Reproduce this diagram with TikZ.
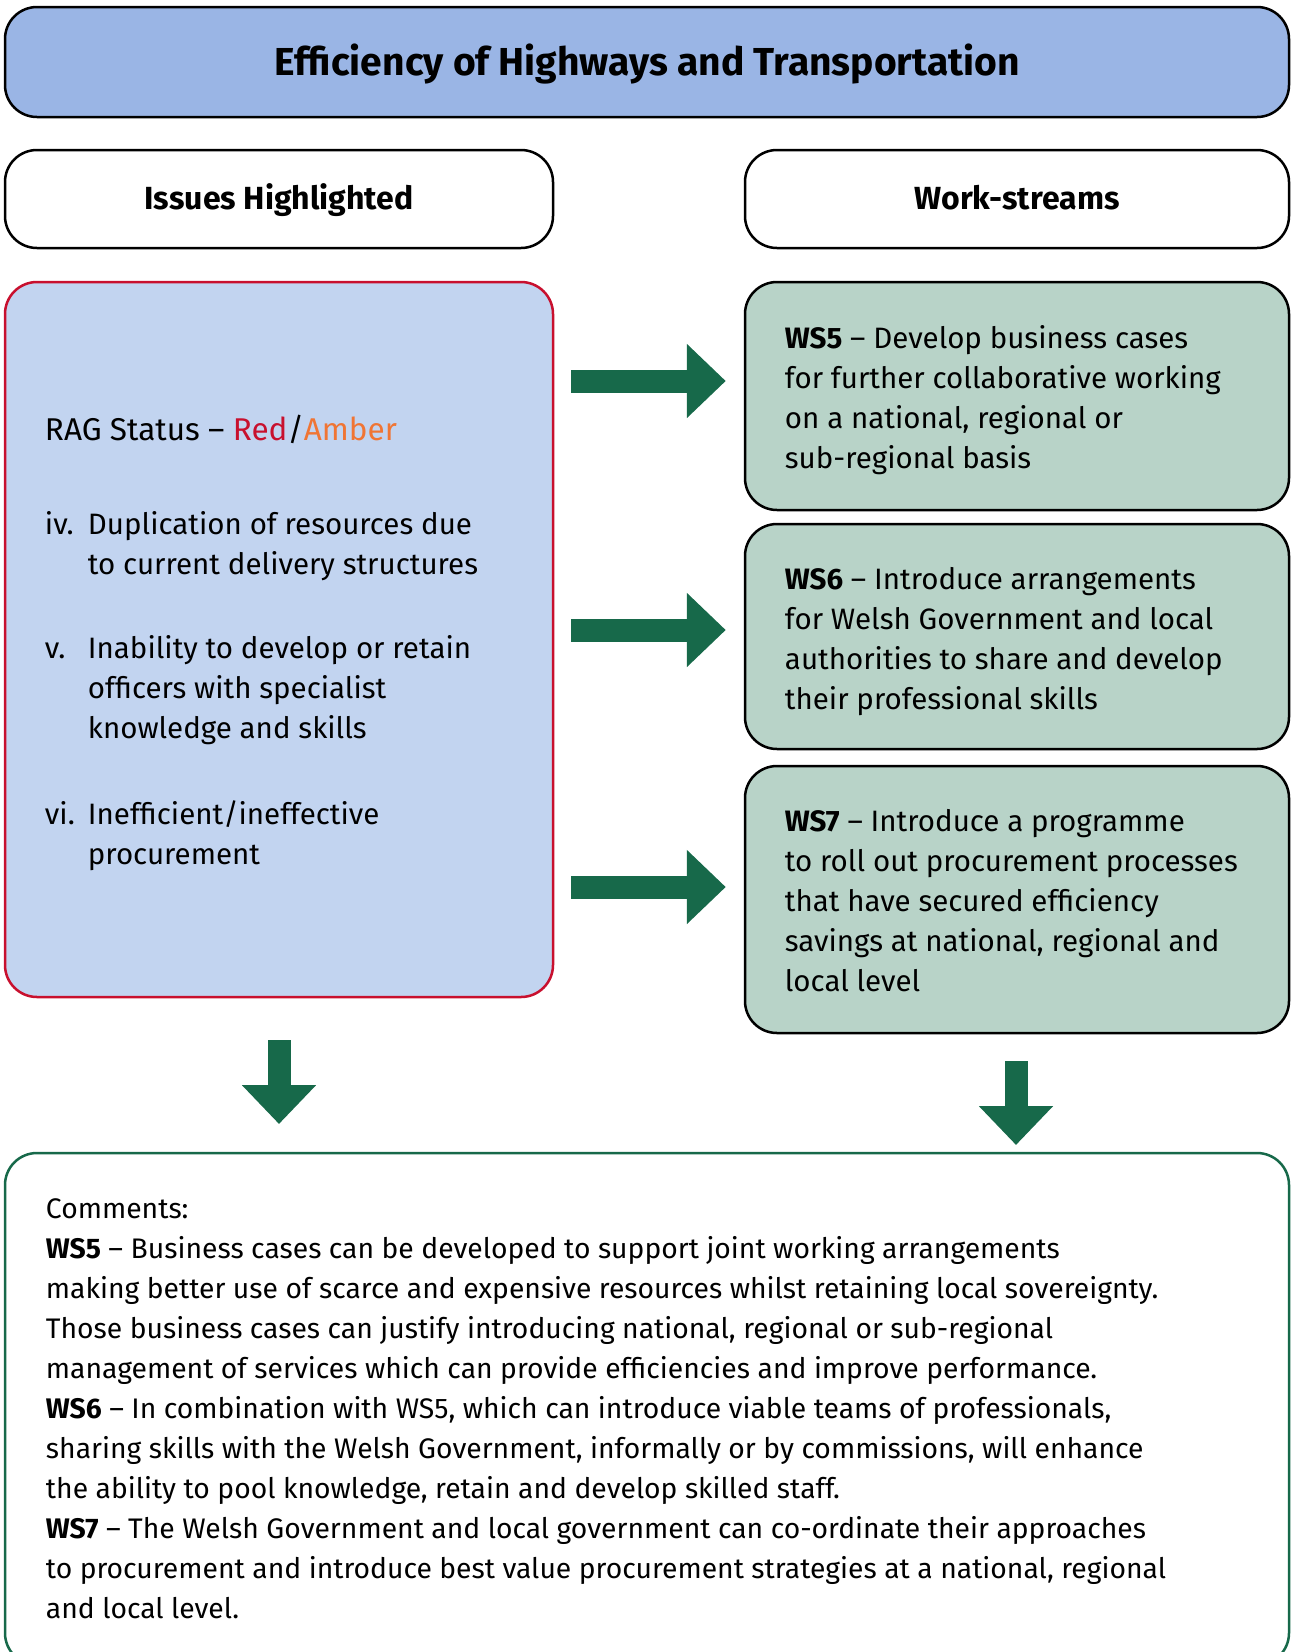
\documentclass[tikz,border=0pt]{standalone}
\usepackage{fontspec}
\setmainfont{Fira Sans}
\usepackage{tikz}
\usetikzlibrary{arrows.meta,positioning,calc}
\usepackage{xcolor}

\definecolor{titleblue}{HTML}{9AB5E5}
\definecolor{issueblue}{HTML}{C2D4F0}
\definecolor{wsgreen}{HTML}{B8D3C8}
\definecolor{arrowgreen}{HTML}{17694A}
\definecolor{ragred}{HTML}{C8102E}
\definecolor{ragamber}{HTML}{F07534}

\begin{document}
\begin{tikzpicture}[
  x=1pt, y=-1pt,
  panel/.style={rectangle, draw=black, line width=2.5pt, rounded corners=32pt,
                inner sep=0pt, font=\fontsize{32}{40}\selectfont\bfseries},
  head/.style={panel, fill=white, minimum width=548pt, minimum height=98pt,
               text height=26pt, text depth=5.5pt},
  wsbox/.style={panel, fill=wsgreen, minimum width=544pt},
  txt/.style={anchor=north west, inner sep=0pt, align=left,
              font=\fontsize{29.5}{40}\selectfont},
  bigarr/.style={draw=arrowgreen, line width=23pt,
                 -{Triangle[length=39pt,width=72pt]}},
]
  \useasboundingbox (0,0) rectangle (1292,1652);

  % boxes
  \node[panel, fill=titleblue, minimum width=1284pt, minimum height=110pt,
        text height=32pt, text depth=6pt,
        font=\fontsize{39}{44}\selectfont\bfseries] (title) at (647,62)
        {Efficiency of Highways and Transportation};
  \node[head] (issueshead) at (279,199) {Issues Highlighted};
  \node[head, minimum width=544pt] (wshead) at (1017,199) {Work-streams};
  \node[panel, draw=ragred, fill=issueblue, minimum width=548pt,
        minimum height=715pt] (issues) at (279,639.5) {};
  \node[wsbox, minimum height=228pt] (ws5) at (1017,396) {};
  \node[wsbox, minimum height=225pt] (ws6) at (1017,636.5) {};
  \node[wsbox, minimum height=267pt] (ws7) at (1017,899.5) {};
  \node[panel, draw=arrowgreen, fill=white, minimum width=1284pt,
        minimum height=512pt] (comments) at (647,1409) {};

  % left panel text
  \node[txt, font=\fontsize{31.5}{40}\selectfont] (rag)
    at ([xshift=41pt,yshift=-132pt]issues.north west)
    {\strut RAG Status -- \textcolor{ragred}{Red}/\textcolor{ragamber}{Amber}};
  \node[txt] (ivlbl) at ([xshift=41pt,yshift=-226pt]issues.north west) {\strut iv.};
  \node[txt] (ivtxt) at ([xshift=84pt,yshift=-226pt]issues.north west)
    {\strut Duplication of resources due\\to current delivery structures};
  \node[txt] (vlbl) at ([xshift=41pt,yshift=-350pt]issues.north west) {\strut v.};
  \node[txt] (vtxt) at ([xshift=84pt,yshift=-350pt]issues.north west)
    {\strut Inability to develop or retain\\officers with specialist\\knowledge and skills};
  \node[txt] (vilbl) at ([xshift=41pt,yshift=-516pt]issues.north west) {\strut vi.};
  \node[txt] (vitxt) at ([xshift=84pt,yshift=-516pt]issues.north west)
    {\strut Inefficient/ineffective\\procurement};

  % work-stream text
  \node[txt] (ws5txt) at ([xshift=41pt,yshift=-40pt]ws5.north west)
    {\strut\textbf{WS5} -- Develop business cases\\for further collaborative working\\on a national, regional or\\sub-regional basis};
  \node[txt] (ws6txt) at ([xshift=41pt,yshift=-39pt]ws6.north west)
    {\strut\textbf{WS6} -- Introduce arrangements\\for Welsh Government and local\\authorities to share and develop\\their professional skills};
  \node[txt] (ws7txt) at ([xshift=41pt,yshift=-39pt]ws7.north west)
    {\strut\textbf{WS7} -- Introduce a programme\\to roll out procurement processes\\that have secured efficiency\\savings at national, regional and\\local level};

  % comments
  \node[txt, font=\fontsize{28.3}{40}\selectfont] (commtxt)
    at ([xshift=42pt,yshift=-39pt]comments.north west)
    {\strut Comments:\\
     \textbf{WS5} -- Business cases can be developed to support joint working arrangements\\
     making better use of scarce and expensive resources whilst retaining local sovereignty.\\
     Those business cases can justify introducing national, regional or sub-regional\\
     management of services which can provide efficiencies and improve performance.\\
     \textbf{WS6} -- In combination with WS5, which can introduce viable teams of professionals,\\
     sharing skills with the Welsh Government, informally or by commissions, will enhance\\
     the ability to pool knowledge, retain and develop skilled staff.\\
     \textbf{WS7} -- The Welsh Government and local government can co-ordinate their approaches\\
     to procurement and introduce best value procurement strategies at a national, regional\\
     and local level.};

  % arrows
  \coordinate (a5) at ([xshift=17pt,yshift=15pt]issues.east |- ws5.west);
  \coordinate (b5) at ([xshift=-18pt,yshift=15pt]ws5.west);
  \coordinate (a6) at ([xshift=17pt,yshift=6.5pt]issues.east |- ws6.west);
  \coordinate (b6) at ([xshift=-18pt,yshift=6.5pt]ws6.west);
  \coordinate (a7) at ([xshift=17pt,yshift=12.5pt]issues.east |- ws7.west);
  \coordinate (b7) at ([xshift=-18pt,yshift=12.5pt]ws7.west);
  \coordinate (dl) at ([yshift=-42pt]issues.south);
  \coordinate (dr) at ([xshift=-1pt,yshift=-27pt]ws7.south);
  \draw[bigarr] (a5) -- (b5);
  \draw[bigarr] (a6) -- (b6);
  \draw[bigarr] (a7) -- (b7);
  \draw[bigarr] (dl) -- (dl |- 0,1124);
  \draw[bigarr] (dr) -- (dr |- 0,1145);
\end{tikzpicture}
\end{document}
